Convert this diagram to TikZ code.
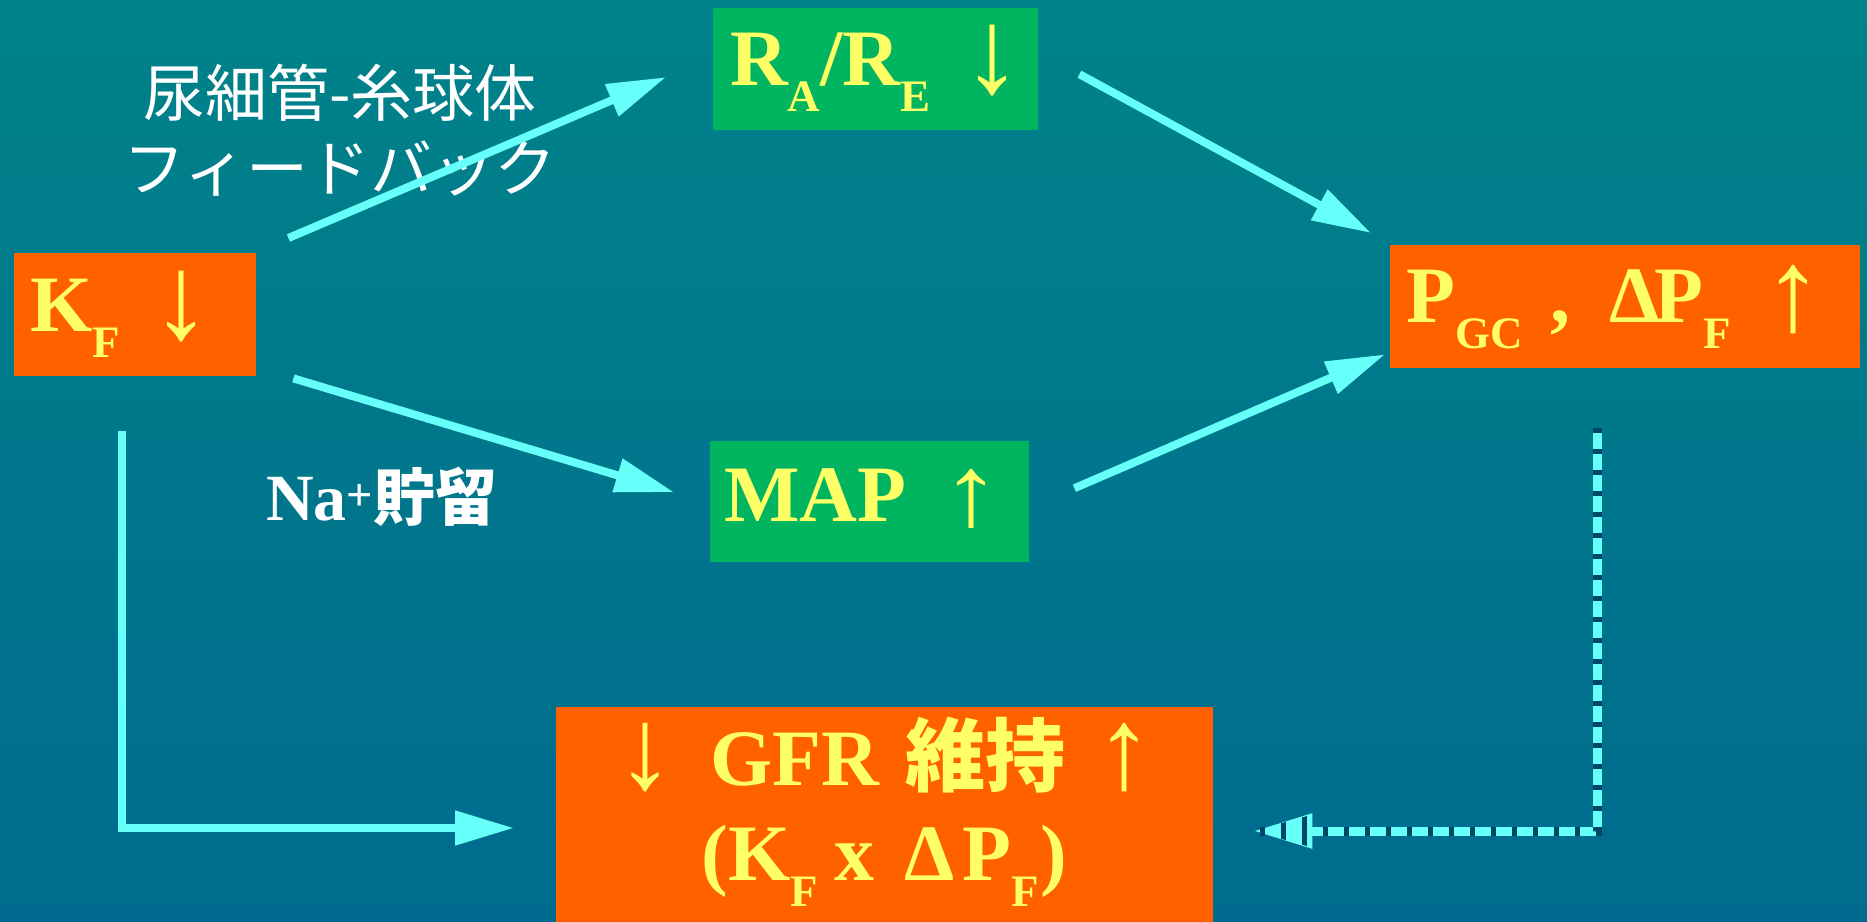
\documentclass[tikz,border=0pt]{standalone}
\usepackage{fontspec}
\usepackage{graphicx}
\setmainfont{Liberation Serif}
\newfontfamily\jp{Noto Sans CJK JP}
\usetikzlibrary{arrows.meta,calc}
\definecolor{bgtop}{RGB}{0,131,138}
\definecolor{bgbot}{RGB}{0,107,142}
\definecolor{boxorange}{RGB}{255,96,0}
\definecolor{boxgreen}{RGB}{0,180,96}
\definecolor{txtyellow}{RGB}{255,255,102}
\definecolor{arrcyan}{RGB}{102,255,250}
\definecolor{dashdark}{RGB}{0,70,105}
\newcommand{\bigfont}{\fontsize{80}{95}\selectfont\bfseries}
\newcommand{\subx}[1]{\raisebox{-26pt}{\fontsize{45}{45}\selectfont\bfseries #1}}
% tall arrow glyph: #1 glyph, #2 xscale, #3 yscale, #4 raise
\newcommand{\tallarr}[4]{\raisebox{#4}{\scalebox{#2}[#3]{#1}}}
\tikzset{
  box/.style={anchor=north west, inner ysep=0pt, align=left, text=txtyellow, font=\bigfont},
  conn/.style={draw=arrcyan, line width=8pt, -{Triangle[length=59pt,width=33pt]}},
  lbl/.style={text=white, inner sep=0pt},
}
\begin{document}
\begin{tikzpicture}[x=1pt,y=-1pt]
\useasboundingbox (0,0) rectangle (1867,921);
\shade[top color=bgtop, bottom color=bgbot] (0,0) rectangle (1867,921);

\node[box, fill=boxorange, inner xsep=16pt, text width=210pt, text height=78pt, text depth=45pt] (kf) at (14,253)
  {\mbox{K\subx{F}\hspace{31.5pt}\tallarr{↓}{1.5}{1.5}{-7pt}}};
\node[box, fill=boxgreen, inner xsep=17pt, text width=291pt, text height=77pt, text depth=45pt] (ra) at (713,8)
  {\mbox{R\subx{A}/R\subx{E}\hspace{32.5pt}\tallarr{↓}{1.5}{1.5}{-7pt}}};
\node[box, fill=boxorange, inner xsep=16pt, text width=438pt, text height=77pt, text depth=46pt] (pgc) at (1390,245)
  {\mbox{P\subx{GC}\hspace{28pt},\hspace{39pt}Δ\hspace{-5pt}P\subx{F}\hspace{32.5pt}\tallarr{↑}{1.5}{1.45}{-8pt}}};
\node[box, fill=boxgreen, inner xsep=14pt, text width=291pt, text height=80pt, text depth=41pt] (map) at (710,441)
  {\mbox{MAP\hspace{35.5pt}\tallarr{↑}{1.5}{1.25}{-4pt}}};
\node[box, fill=boxorange, inner xsep=0pt, text width=657pt, align=center, text height=78pt, text depth=160pt] (gfr) at (556,707)
  {\tallarr{\mdseries↓}{1.45}{1.45}{-3pt}\hspace{36pt}GFR\hspace{26pt}{\jp\fontsize{80}{80}\selectfont 維持}\hspace{30pt}\tallarr{\mdseries↑}{1.45}{1.45}{-3pt}\\
   (K\subx{F}\hspace{16pt}x\hspace{30pt}Δ\hspace{8pt}P\subx{F}\hspace{2pt})};

\node[lbl, align=center, font=\jp\fontsize{62}{75}\selectfont] (fb) at (340,130) {尿細管-糸球体\\フィードバック};
\node[lbl, anchor=base west] (na) at (266,520)
  {\fontsize{66}{66}\selectfont\bfseries Na\textsuperscript{+}{\jp\fontsize{62}{62}\selectfont 貯留}};

\draw[conn] ([shift={(32,-15)}]kf.north east) -- ([shift={(-47,8)}]ra.west);
\draw[conn] ([shift={(37,2)}]kf.south east) -- ([shift={(-36,-9.5)}]map.west);
\draw[conn] ([shift={(41,5)}]ra.east) -- ([shift={(-19,-12)}]pgc.north west);
\draw[conn] ([shift={(45,-13.5)}]map.east) -- ([shift={(-5,-14)}]pgc.south west);
\draw[conn] ([shift={(108,55)}]kf.south west) |- ([shift={(-42,121)}]gfr.north west);

\coordinate (ds) at ([shift={(-28,60)}]pgc.south);
\coordinate (de) at ([shift={(40,124)}]gfr.north east);
\draw[draw=arrcyan, line width=9pt, -{Triangle[length=59pt,width=33pt]}] (ds) |- (de);
\draw[draw=dashdark, line width=9pt, dash pattern=on 4.5pt off 16.5pt] (ds) |- (de);
\begin{scope}
  \clip (de) -- ++(59,-16.5) -- ++(0,33) -- cycle;
  \draw[draw=dashdark, line width=40pt, dash pattern=on 4.5pt off 16.5pt] (ds) |- (de);
\end{scope}
\end{tikzpicture}
\end{document}
